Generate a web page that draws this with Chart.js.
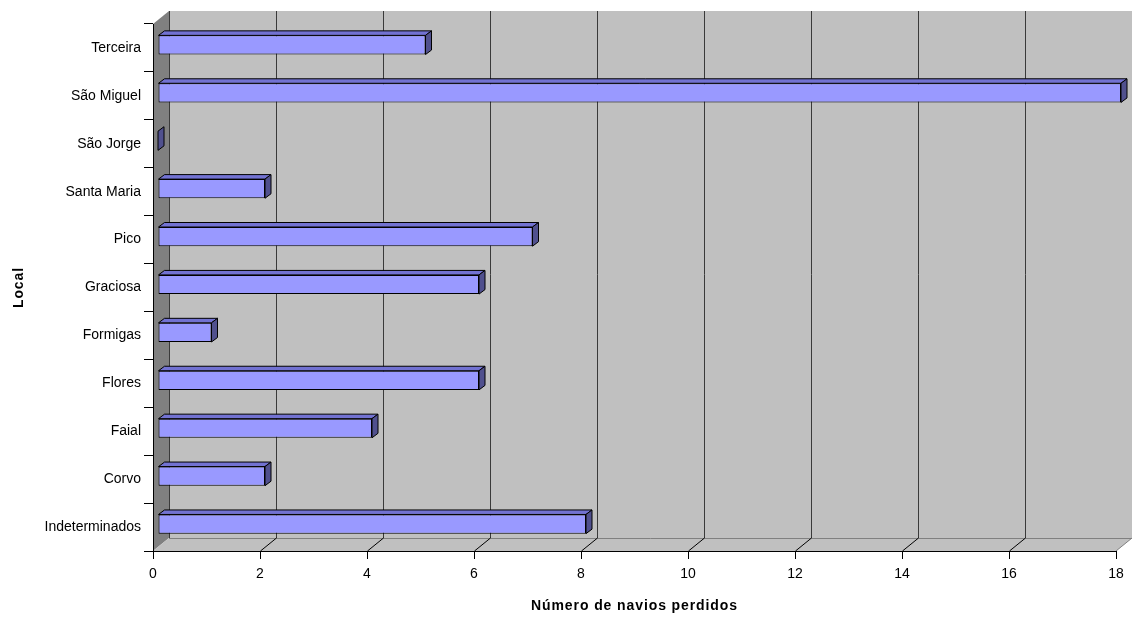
<!DOCTYPE html>
<html lang="pt">
<head>
<meta charset="utf-8">
<title>Número de navios perdidos por local</title>
<script src="https://cdn.jsdelivr.net/npm/chart.js@4.4.1/dist/chart.umd.min.js"></script>
<style>
  html, body { margin: 0; padding: 0; background: #ffffff; }
  #wrap { width: 1133px; height: 617px; position: relative; }
</style>
</head>
<body>
<div id="wrap"><canvas id="grafico"></canvas></div>
<script>
// Locais (de baixo para cima) e número de navios perdidos em cada um
const locais = ['Indeterminados', 'Corvo', 'Faial', 'Flores', 'Formigas', 'Graciosa',
                'Pico', 'Santa Maria', 'São Jorge', 'São Miguel', 'Terceira'];
const naviosPerdidos = [8, 2, 4, 6, 1, 6, 7, 2, 0, 18, 5];

// Escala do eixo horizontal
const eixoMin = 0;
const eixoMax = 18;
const eixoPasso = 2;

const tituloX = 'Número de navios perdidos';
const tituloY = 'Local';

// Perspetiva pseudo-3D: profundidade das paredes e posição das barras
const PROF = { dx: 16, dy: -13 };
const BARRA_FRENTE = { dx: 5, dy: -3 };
const BARRA_PROF = { dx: 6, dy: -4.5 };

const COR_PAREDE = '#c0c0c0';
const COR_LATERAL = '#808080';
const COR_GRELHA = '#3a3a3a';
const COR_BARRA = '#9999ff';
const COR_TOPO = '#7272d2';
const COR_FIM = '#50508e';

const FONTE = "'Liberation Sans', Arial, sans-serif";

// Paredes do fundo, lateral e chão com as linhas de grelha
const paredes = {
  id: 'paredes',
  beforeDraw(chart) {
    const { ctx, chartArea: a, scales } = chart;
    const x = scales.x;
    ctx.save();
    // parede do fundo
    ctx.fillStyle = COR_PAREDE;
    ctx.fillRect(a.left + PROF.dx, a.top + PROF.dy, a.right - a.left, a.bottom - a.top);
    // parede lateral
    ctx.fillStyle = COR_LATERAL;
    ctx.beginPath();
    ctx.moveTo(a.left, a.top);
    ctx.lineTo(a.left + PROF.dx, a.top + PROF.dy);
    ctx.lineTo(a.left + PROF.dx, a.bottom + PROF.dy);
    ctx.lineTo(a.left, a.bottom);
    ctx.closePath();
    ctx.fill();
    // chão
    ctx.fillStyle = COR_PAREDE;
    ctx.beginPath();
    ctx.moveTo(a.left, a.bottom);
    ctx.lineTo(a.right, a.bottom);
    ctx.lineTo(a.right + PROF.dx, a.bottom + PROF.dy);
    ctx.lineTo(a.left + PROF.dx, a.bottom + PROF.dy);
    ctx.closePath();
    ctx.fill();
    // aresta do fundo do chão e lado direito
    ctx.strokeStyle = COR_LATERAL;
    ctx.lineWidth = 1;
    ctx.beginPath();
    ctx.moveTo(a.left + PROF.dx, Math.round(a.bottom + PROF.dy) + 0.5);
    ctx.lineTo(a.right + PROF.dx, Math.round(a.bottom + PROF.dy) + 0.5);
    ctx.moveTo(a.right, a.bottom);
    ctx.lineTo(a.right + PROF.dx, a.bottom + PROF.dy);
    ctx.stroke();
    // linhas de grelha verticais na parede do fundo e diagonais no chão
    x.ticks.forEach((t) => {
      const px = Math.round(x.getPixelForValue(t.value));
      if (t.value < eixoMax) {
        ctx.strokeStyle = COR_GRELHA;
        ctx.beginPath();
        ctx.moveTo(px + PROF.dx + 0.5, a.top + PROF.dy);
        ctx.lineTo(px + PROF.dx + 0.5, a.bottom + PROF.dy);
        ctx.stroke();
      }
      if (t.value > eixoMin && t.value < eixoMax) {
        ctx.strokeStyle = '#000000';
        ctx.beginPath();
        ctx.moveTo(px + 0.5, a.bottom);
        ctx.lineTo(px + PROF.dx + 0.5, a.bottom + PROF.dy);
        ctx.stroke();
      }
    });
    ctx.restore();
  }
};

// Barras em 3D: a face frontal é desenhada pelo Chart.js, deslocada para dentro;
// o topo e a extremidade são acrescentados a partir dos mesmos elementos
const barras3d = {
  id: 'barras3d',
  beforeDatasetsDraw(chart) {
    chart.ctx.save();
    chart.ctx.translate(BARRA_FRENTE.dx, BARRA_FRENTE.dy);
  },
  afterDatasetsDraw(chart) {
    const ctx = chart.ctx;
    ctx.restore();
    const meta = chart.getDatasetMeta(0);
    ctx.save();
    ctx.lineWidth = 1;
    ctx.strokeStyle = '#000000';
    ctx.lineJoin = 'miter';
    meta.data.forEach((bar) => {
      const p = bar.getProps(['x', 'y', 'base', 'height'], true);
      const cima = p.y - p.height / 2 + BARRA_FRENTE.dy;
      const baixo = p.y + p.height / 2 + BARRA_FRENTE.dy;
      const esq = Math.min(p.base, p.x) + BARRA_FRENTE.dx;
      const dir = Math.max(p.base, p.x) + BARRA_FRENTE.dx;
      // topo
      ctx.fillStyle = COR_TOPO;
      ctx.beginPath();
      ctx.moveTo(esq, cima);
      ctx.lineTo(dir, cima);
      ctx.lineTo(dir + BARRA_PROF.dx, cima + BARRA_PROF.dy);
      ctx.lineTo(esq + BARRA_PROF.dx, cima + BARRA_PROF.dy);
      ctx.closePath();
      if (dir > esq) { ctx.fill(); ctx.stroke(); }
      // extremidade
      ctx.fillStyle = COR_FIM;
      ctx.beginPath();
      ctx.moveTo(dir, cima);
      ctx.lineTo(dir + BARRA_PROF.dx, cima + BARRA_PROF.dy);
      ctx.lineTo(dir + BARRA_PROF.dx, baixo + BARRA_PROF.dy);
      ctx.lineTo(dir, baixo);
      ctx.closePath();
      ctx.fill();
      ctx.stroke();
    });
    ctx.restore();
    // espaçamento de letras para os títulos dos eixos, desenhados a seguir
    ctx.letterSpacing = '0.9px';
  },
  afterDraw(chart) {
    chart.ctx.letterSpacing = '0px';
  }
};

new Chart(document.getElementById('grafico'), {
  type: 'bar',
  data: {
    labels: locais,
    datasets: [{
      label: tituloX,
      data: naviosPerdidos,
      backgroundColor: COR_BARRA,
      borderColor: '#000000',
      borderWidth: 1,
      borderSkipped: false,
      categoryPercentage: 1.0,
      barPercentage: 0.4,
      clip: false
    }]
  },
  options: {
    indexAxis: 'y',
    responsive: true,
    maintainAspectRatio: false,
    animation: false,
    devicePixelRatio: 1,
    layout: { padding: { top: 24, right: 17, left: 0, bottom: 0 } },
    plugins: {
      legend: { display: false },
      tooltip: { enabled: false },
      title: { display: false }
    },
    scales: {
      x: {
        type: 'linear',
        min: eixoMin,
        max: eixoMax,
        afterFit(scale) { scale.height = 66; },
        ticks: {
          stepSize: eixoPasso,
          color: '#000000',
          padding: 7,
          font: { family: FONTE, size: 14 }
        },
        grid: {
          drawOnChartArea: false,
          drawTicks: true,
          tickLength: 8,
          color: '#000000',
          z: 1
        },
        border: { display: true, color: '#000000', width: 1, z: 1 },
        title: {
          display: true,
          text: tituloX,
          color: '#000000',
          font: { family: FONTE, size: 14, weight: 'bold' },
          padding: { top: 0, bottom: 2 }
        }
      },
      y: {
        reverse: true,
        afterFit(scale) { scale.width = 153; },
        ticks: {
          color: '#000000',
          padding: 3,
          font: { family: FONTE, size: 14 }
        },
        grid: {
          offset: true,
          drawOnChartArea: false,
          drawTicks: true,
          tickLength: 9,
          color: '#000000',
          z: 1
        },
        border: { display: true, color: '#000000', width: 1, z: 1 },
        title: {
          display: true,
          text: tituloY,
          color: '#000000',
          font: { family: FONTE, size: 14, weight: 'bold' },
          padding: { top: 11, bottom: 0 }
        }
      }
    }
  },
  plugins: [paredes, barras3d]
});
</script>
</body>
</html>
